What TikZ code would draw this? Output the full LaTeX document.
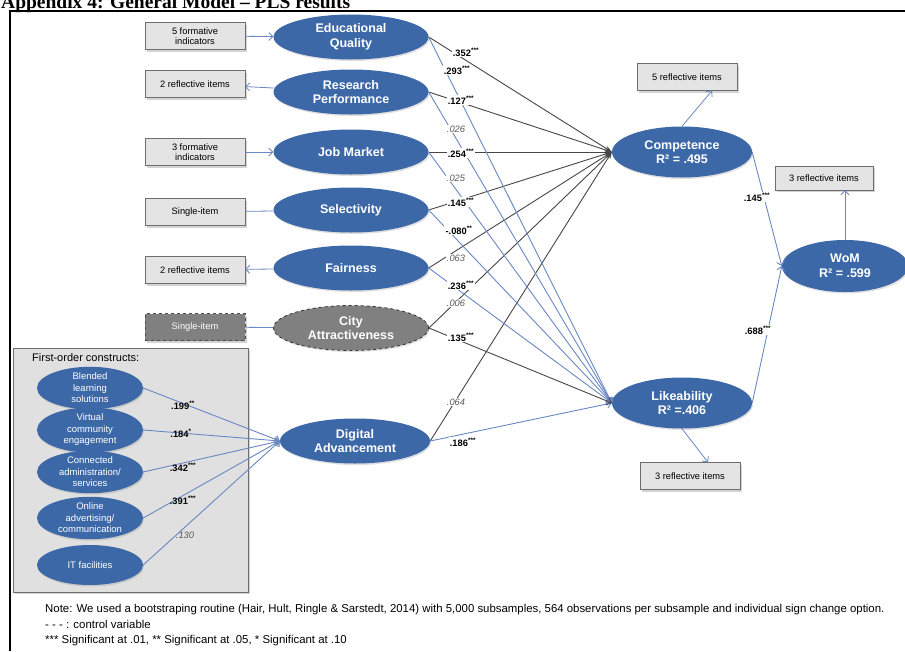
\documentclass[tikz,border=0pt]{standalone}
\usepackage{fontspec}
\setmainfont{Liberation Sans}
\newfontfamily\titlefont{Liberation Serif}
\usetikzlibrary{shapes.geometric,arrows.meta,shadows,calc}
\definecolor{ellblue}{RGB}{60,104,168}
\definecolor{lineblue}{RGB}{105,135,195}
\definecolor{linedark}{RGB}{70,70,70}
\definecolor{boxfill}{RGB}{228,228,228}
\definecolor{boxdraw}{RGB}{110,110,110}
\definecolor{panelfill}{RGB}{224,224,224}
\definecolor{cityfill}{RGB}{128,128,128}
\tikzset{
  lv/.style={ellipse, fill=ellblue, text=white, font=\bfseries\fontsize{12.5}{14.5}\selectfont,
    align=center, inner sep=0pt, minimum width=155pt, minimum height=45pt,
    drop shadow={shadow xshift=1pt,shadow yshift=-1.5pt,opacity=.25}},
  endo/.style={lv, minimum width=140pt, minimum height=51pt},
  fo/.style={ellipse, fill=ellblue, text=white, font=\fontsize{9.5}{11.5}\selectfont,
    align=center, inner sep=0pt, minimum width=106pt, minimum height=40pt,
    drop shadow={shadow xshift=1pt,shadow yshift=-1.5pt,opacity=.25}},
  ind/.style={rectangle, draw=boxdraw, fill=boxfill, font=\fontsize{9.3}{10.5}\selectfont,
    align=center, minimum width=100pt, minimum height=27pt, inner sep=1pt,
    drop shadow={shadow xshift=2pt,shadow yshift=-2pt,opacity=.35}},
  indctl/.style={ind, fill=cityfill, text=white, draw=black!70, dashed},
  coef/.style={fill=white, inner sep=1.2pt, font=\bfseries\fontsize{9.3}{10}\selectfont},
  coefns/.style={fill=white, inner sep=1.2pt, font=\itshape\fontsize{9.3}{10}\selectfont, text=black!65},
  pcoef/.style={inner sep=1pt, font=\bfseries\fontsize{9.3}{10}\selectfont},
  pcoefns/.style={inner sep=1pt, font=\itshape\fontsize{9.3}{10}\selectfont, text=black!65},
  tip/.style={-{Straight Barb[length=4pt,width=8pt]}},
  dkline/.style={draw=linedark, line width=0.9pt, -{Stealth[length=7pt,width=5pt]}},
  blline/.style={draw=lineblue, line width=0.9pt, tip},
  thin/.style={draw=lineblue, line width=0.8pt},
  notefont/.style={font=\fontsize{11.4}{13}\selectfont, inner sep=0pt, anchor=base west},
}
\begin{document}
\begin{tikzpicture}[x=1pt,y=-1pt]
\useasboundingbox (0,0) rectangle (905,651);
% title and frame
\node[anchor=base west, inner sep=0pt, font=\titlefont\bfseries\fontsize{19.5}{20}\selectfont] (title) at (1,8) {Appendix 4: General Model – PLS results};
\draw[line width=2pt] (10,651) -- (10,10.5) -- (905,10.5);

% first-order panel
\path[draw=boxdraw, fill=panelfill, drop shadow={shadow xshift=2pt,shadow yshift=-2pt,opacity=.35}] (13,348) rectangle (248,592);
\node[anchor=west, inner sep=0pt, font=\fontsize{11}{12}\selectfont] (fotitle) at (32,358) {First-order constructs:};

% indicator boxes (left)
\node[ind] (b1) at (195,36) {5 formative\\indicators};
\node[ind] (b2) at (195,84) {2 reflective  items};
\node[ind] (b3) at (195,152) {3 formative\\indicators};
\node[ind] (b4) at (195,212) {Single-item};
\node[ind] (b5) at (195,270) {2 reflective  items};
\node[indctl] (b6) at (195,327) {Single-item};

% exogenous constructs
\node[lv] (edu) at (351,37) {Educational\\Quality};
\node[lv] (res) at (351,92) {Research\\Performance};
\node[lv] (job) at (351,152) {Job Market};
\node[lv] (sel) at (351,210) {Selectivity};
\node[lv] (fair) at (351,268) {Fairness};
\node[lv, fill=cityfill, draw=black!80, dashed, line width=0.8pt] (city) at (351,328) {City\\Attractiveness};
\node[lv, minimum width=150pt] (dig) at (355,441) {Digital\\Advancement};

% first-order constructs
\node[fo] (fo1) at (90,388) {Blended\\learning\\solutions};
\node[fo] (fo2) at (90,430) {Virtual\\community\\engagement};
\node[fo] (fo3) at (90,472) {Connected\\administration/\\services};
\node[fo] (fo4) at (90,518) {Online\\advertising/\\communication};
\node[fo] (fo5) at (90,565) {IT facilities};

% endogenous constructs
\node[endo] (comp) at (682,152) {Competence\\R² =  .495};
\node[endo] (like) at (682,403) {Likeability\\R² =.406};
\node[endo, minimum width=126pt, minimum height=52pt] (wom) at (845,266) {WoM\\R² = .599};

% indicator boxes (right)
\node[ind] (r1) at (687,77) {5 reflective items};
\node[ind, minimum width=98pt, minimum height=24pt] (r2) at (824,178) {3 reflective  items};
\node[ind] (r3) at (690,476) {3 reflective items};

% measurement arrows
\draw[thin, tip] (b1) -- (edu);
\draw[thin, tip] (res) -- (b2);
\draw[thin, tip] (b3) -- (job);
\draw[thin] (b4) -- (sel);
\draw[thin, tip] (fair) -- (b5);
\draw[thin] (b6) -- (city);
\draw[thin, tip] (comp.north) -- ($(r1.south)+(25,0)$);
\draw[thin, tip] (like.south) -- ($(r3.north)+(18,0)$);
\draw[thin, tip] (wom.north) -- (wom.north |- r2.south);

% structural paths to Competence
\foreach \s in {edu,res,job,sel,fair,city,dig}
  \draw[dkline] (\s.east) -- (comp.west);
% structural paths to Likeability
\foreach \s in {edu,res,job,sel,fair,dig}
  \draw[blline] (\s.east) -- (like.west);
\draw[draw=linedark, line width=0.9pt, tip] (city.east) -- (like.west);

% first-order to Digital Advancement
\foreach \s in {fo1,fo2,fo3,fo4,fo5}
  \draw[blline] (\s.east) -- (dig.west);

% Competence / Likeability to WoM
\draw[blline] (comp.east) -- (wom.west);
\draw[blline] (like.east) -- (wom.west);

% coefficients
\node[coef] (c1) at (466,52) {.352\textsuperscript{***}};
\node[coef] (c2) at (457,70) {.293\textsuperscript{***}};
\node[coef] (c3) at (461,100) {.127\textsuperscript{***}};
\node[coefns] (c4) at (456,129) {.026};
\node[coef] (c5) at (461,153) {.254\textsuperscript{***}};
\node[coefns] (c6) at (456,178) {.025};
\node[coef] (c7) at (461,202) {.145\textsuperscript{***}};
\node[coef] (c8) at (459,230) {-.080\textsuperscript{**}};
\node[coefns] (c9) at (456,258) {.063};
\node[coef] (c10) at (461,285) {.236\textsuperscript{***}};
\node[coefns] (c11) at (456,303) {.006};
\node[coef] (c12) at (461,337) {.135\textsuperscript{***}};
\node[coefns] (c13) at (456,402) {.064};
\node[coef] (c14) at (463,442) {.186\textsuperscript{***}};
\node[coef] (c15) at (757,197) {.145\textsuperscript{***}};
\node[coef] (c16) at (758,330) {.688\textsuperscript{***}};
\node[pcoef] (p1) at (183,405) {.199\textsuperscript{**}};
\node[pcoef] (p2) at (181,433) {.184\textsuperscript{*}};
\node[pcoef] (p3) at (183,467) {.342\textsuperscript{***}};
\node[pcoef] (p4) at (183,500) {.391\textsuperscript{***}};
\node[pcoefns] (p5) at (185,535) {.130};

% note
\node[notefont] (n1) at (45,612) {Note: We used a bootstraping routine (Hair, Hult, Ringle \& Sarstedt, 2014) with 5,000 subsamples, 564 observations per subsample and individual  sign change option.};
\node[notefont] (n2) at (45,628) {- - - : control variable};
\node[notefont] (n3) at (45,643) {*** Significant at .01, ** Significant at .05, * Significant at .10};
\end{tikzpicture}
\end{document}
